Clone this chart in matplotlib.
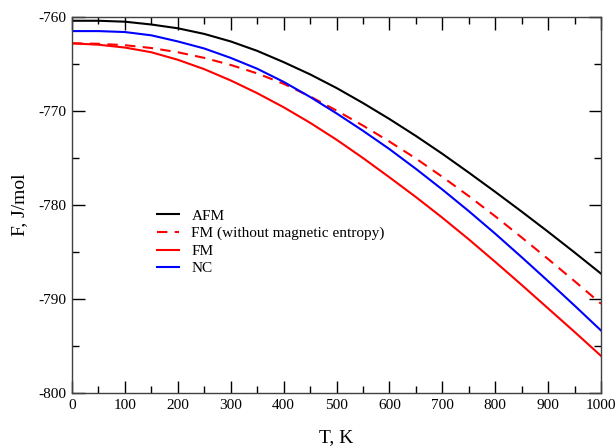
import numpy as np
import matplotlib
matplotlib.use('Agg')
import matplotlib.pyplot as plt

plt.rcParams['font.family'] = ['Liberation Serif', 'DejaVu Serif']
plt.rcParams['axes.unicode_minus'] = False

# temperature grid, K
T = [0, 50, 100, 150, 200, 250, 300, 350, 400, 450, 500,
     550, 600, 650, 700, 750, 800, 850, 900, 950, 1000]

# free energy, J/mol
F_afm = [-760.4, -760.4, -760.5, -760.8, -761.2, -761.8, -762.6, -763.6, -764.8, -766.1, -767.55,
         -769.15, -770.85, -772.65, -774.55, -776.55, -778.6, -780.7, -782.85, -785.05, -787.3]
F_fm_nomag = [-762.8, -762.85, -763.0, -763.3, -763.75, -764.35, -765.1, -766.0, -767.1, -768.45, -769.95,
              -771.55, -773.25, -775.05, -777.0, -779.05, -781.2, -783.45, -785.75, -788.1, -790.5]
F_fm = [-762.8, -762.95, -763.25, -763.75, -764.55, -765.55, -766.75, -768.1, -769.6, -771.25, -773.05,
        -775.0, -777.05, -779.15, -781.35, -783.65, -786.05, -788.5, -791.0, -793.5, -796.05]
F_nc = [-761.5, -761.5, -761.6, -761.95, -762.6, -763.35, -764.35, -765.5, -766.9, -768.5, -770.25,
        -772.1, -774.05, -776.15, -778.35, -780.65, -783.05, -785.55, -788.1, -790.7, -793.35]

fig = plt.figure(figsize=(6.16, 4.46), dpi=100)
ax = fig.add_axes([72/616, 1 - 393/446, (601 - 72)/616, (393 - 17)/446])

lw = 1.5
ax.plot(T, F_afm, color='black', lw=lw, label='AFM')
ax.plot(T, F_fm_nomag, color='red', lw=lw, ls=(0, (5, 3.5)), label='FM (without magnetic entropy)')
ax.plot(T, F_fm, color='red', lw=lw, label='FM')
ax.plot(T, F_nc, color='blue', lw=lw, label='NC')

ax.set_xlim(0, 1000)
ax.set_ylim(-800, -760)
ax.set_xticks(np.arange(0, 1001, 100))
ax.set_xticks(np.arange(0, 1001, 50), minor=True)
ax.set_yticks(np.arange(-800, -759, 10))
ax.set_yticks(np.arange(-800, -759, 5), minor=True)
ax.tick_params(which='both', direction='in', top=True, right=True, labelsize=11, width=1, color='black')
ax.tick_params(which='major', length=9, pad=4)
ax.tick_params(which='minor', length=5)
for sp in ax.spines.values():
    sp.set_color('#404040')
    sp.set_linewidth(1)

ax.set_xlabel('T, K', fontsize=14, va='center')
ax.set_ylabel('F, J/mol', fontsize=14, va='center')
ax.xaxis.set_label_coords(0.5, (393 - 438) / 376)
ax.yaxis.set_label_coords((20 - 72) / 529, 0.5)

leg = fig.legend(loc='upper left', bbox_to_anchor=(157/616, 1 - 209/446), frameon=False,
                 fontsize=11, handlelength=1.45, handletextpad=0.8, labelspacing=0.25,
                 borderpad=0, borderaxespad=0)

fig.savefig('out.png', dpi=100)
